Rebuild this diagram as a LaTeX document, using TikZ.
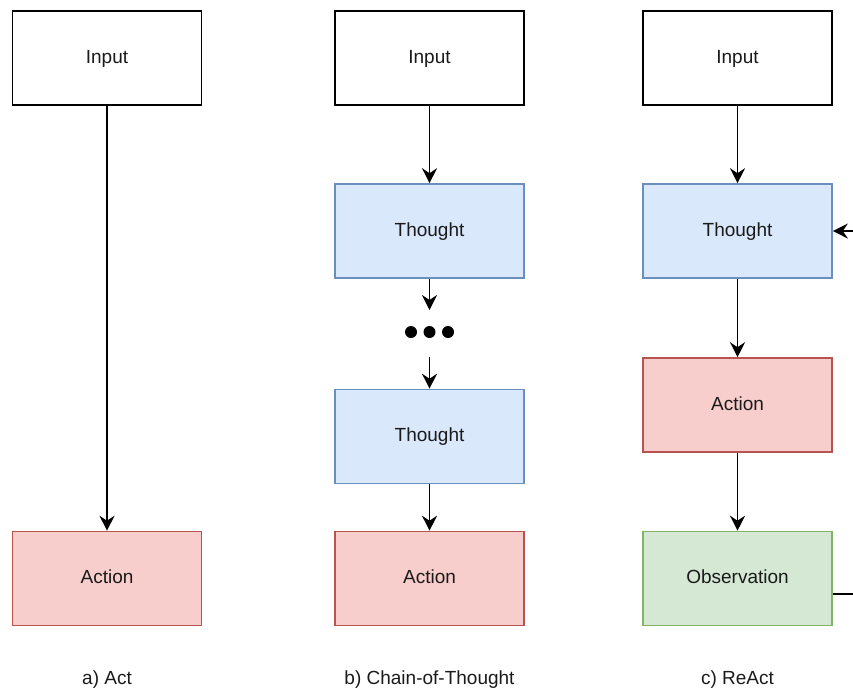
\documentclass[tikz,border=0pt]{standalone}
\usepackage{fontspec}
\setmainfont{Liberation Sans}
\usetikzlibrary{arrows.meta}
\definecolor{bluefill}{HTML}{DAE8FC}
\definecolor{bluedraw}{HTML}{6C8EBF}
\definecolor{redfill}{HTML}{F8CECC}
\definecolor{reddraw}{HTML}{B85450}
\definecolor{greenfill}{HTML}{D5E8D4}
\definecolor{greendraw}{HTML}{82B366}
\definecolor{textgray}{HTML}{1A1A1A}
\begin{document}
\begin{tikzpicture}[x=1pt,y=-1pt,
  box/.style={draw, line width=1.6pt, minimum width=189pt, minimum height=94pt, inner sep=0pt, font=\fontsize{19}{21}\selectfont, text=textgray, anchor=center, text height=13.5pt, text depth=3.5pt},
  inputbox/.style={box, draw=black, fill=white, line width=1.5pt},
  thoughtbox/.style={box, draw=bluedraw, fill=bluefill},
  actionbox/.style={box, draw=reddraw, fill=redfill},
  obsbox/.style={box, draw=greendraw, fill=greenfill},
  conn/.style={line width=1.6pt, -{Stealth[length=15pt, width=15pt, inset=5pt]}},
  plainconn/.style={line width=1.6pt},
  caption/.style={font=\fontsize{19}{21}\selectfont, text=textgray, anchor=center},
  dot/.style={circle, fill=black, minimum size=12pt, inner sep=0pt}
]
\useasboundingbox (0,0) rectangle (853,689);
\clip (0,0) rectangle (853,689);
% Column a
\node[inputbox] (ainput) at (107,58) {Input};
\node[actionbox] (aaction) at (107,578.5) {Action};
\draw[conn] (ainput) -- (aaction);
\node[caption] (acap) at (107,680) {a) Act};
% Column b
\node[inputbox] (binput) at (429.5,58) {Input};
\node[thoughtbox] (bthought) at (429.5,231) {Thought};
\node[thoughtbox] (bthought2) at (429.5,436.5) {Thought};
\node[actionbox] (baction) at (429.5,578.5) {Action};
\node[dot] (d1) at (411,332) {};
\node[dot] (d2) at (429.5,332) {};
\node[dot] (d3) at (448,332) {};
\coordinate (bdotin) at (429.5,310);
\coordinate (bdotout) at (429.5,357);
\draw[conn] (binput) -- (bthought);
\draw[conn] (bthought) -- (bdotin);
\draw[conn] (bdotout) -- (bthought2);
\draw[conn] (bthought2) -- (baction);
\node[caption] (bcap) at (429.5,680) {b) Chain-of-Thought};
% Column c
\node[inputbox] (cinput) at (737.5,58) {Input};
\node[thoughtbox] (cthought) at (737.5,231) {Thought};
\node[actionbox] (caction) at (737.5,405) {Action};
\node[obsbox] (cobs) at (737.5,578.5) {Observation};
\draw[conn] (cinput) -- (cthought);
\draw[conn] (cthought) -- (caction);
\draw[conn] (caction) -- (cobs);
\coordinate (loopin) at (860,231);
\coordinate (loopout) at (860,594);
\draw[conn] (loopin) -- (cthought.east |- loopin);
\draw[plainconn] (cobs.east |- loopout) -- (loopout);
\node[caption] (ccap) at (737.5,680) {c) ReAct};
\end{tikzpicture}
\end{document}
